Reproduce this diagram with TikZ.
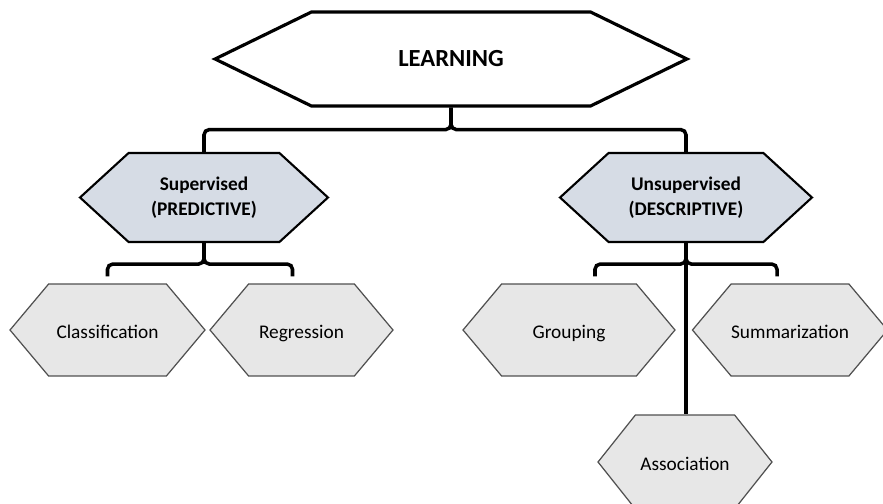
\documentclass[tikz,border=0pt]{standalone}
\usepackage{fontspec}
\setmainfont{Carlito}
\usetikzlibrary{shapes.symbols, positioning, calc}

\definecolor{typefill}{HTML}{D6DCE5}
\definecolor{leaffill}{HTML}{E7E7E7}
\definecolor{leafline}{HTML}{505050}

\tikzset{
  hexa/.style={signal, signal to=west and east, inner sep=0pt, align=center,
    font=\fontsize{11}{14}\selectfont},
  rootbox/.style={hexa, draw=black, line width=1.8pt, fill=white,
    signal pointer angle=52, minimum height=1.88cm, text height=9pt, text depth=0pt,
    font=\fontsize{14}{16}\selectfont\bfseries},
  typebox/.style={hexa, draw=black, line width=1.2pt, fill=typefill,
    signal pointer angle=85, minimum height=1.78cm, font=\fontsize{11}{14}\selectfont\bfseries},
  leafbox/.style={hexa, draw=leafline, line width=0.7pt, fill=leaffill,
    signal pointer angle=100, minimum height=1.84cm, text height=10pt, text depth=0pt},
  conn/.style={line width=2pt, rounded corners=3pt}
}

\begin{document}
\begin{tikzpicture}[x=0.02cm, y=0.02cm]
  \useasboundingbox (0,0) rectangle (883,-504);
  \clip (0,0) rectangle (883,-504);

  % Root
  \node[rootbox, minimum width=9.44cm] (learn) at (451,-59) {LEARNING};

  % Learning types
  \node[typebox, minimum width=4.96cm] (sup) at (204,-197.5) {Supervised\\(PREDICTIVE)};
  \node[typebox, minimum width=5.04cm] (unsup) at (686,-197.5) {Unsupervised\\(DESCRIPTIVE)};

  % Tasks
  \node[leafbox, minimum width=3.9cm] (cls) at (107.5,-330) {Classification};
  \node[leafbox, minimum width=3.66cm] (reg) at (301.5,-330) {Regression};
  \node[leafbox, minimum width=4.24cm] (grp) at (569,-330) {Grouping};
  \node[leafbox, minimum width=3.6cm] (sum) at (790,-330) {Summarization};
  \node[leafbox, minimum width=3.48cm, minimum height=1.88cm, signal pointer angle=103] (asc) at (685,-462) {Association};

  % Connections
  \draw[conn] (learn.south) -- ++(0,-22) -| (sup.north);
  \draw[conn] (learn.south) -- ++(0,-22) -| (unsup.north);
  \draw[conn] (sup.south) -- ++(0,-21) -| ([yshift=4pt]cls.north);
  \draw[conn] (sup.south) -- ++(0,-21) -| ([xshift=-0.18cm, yshift=4pt]reg.north);
  \draw[conn] (unsup.south) -- ++(0,-21) -| ([xshift=0.52cm, yshift=4pt]grp.north);
  \draw[conn] (unsup.south) -- ++(0,-21) -| ([xshift=-0.26cm, yshift=4pt]sum.north);
  \draw[conn] (unsup.south) -- (unsup.south |- asc.north);
\end{tikzpicture}
\end{document}
